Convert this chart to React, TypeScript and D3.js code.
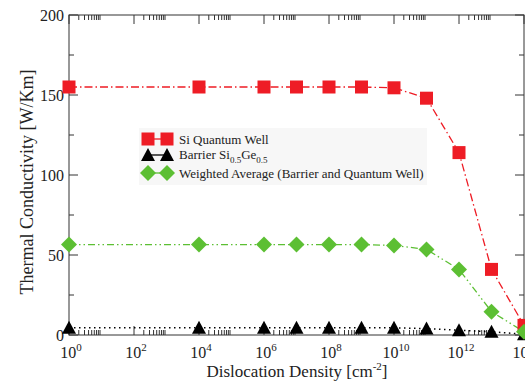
import React from "react";
import * as d3 from "d3";

const densities = [1e0, 1e4, 1e6, 1e7, 1e8, 1e9, 1e10, 1e11, 1e12, 1e13, 1e14];
const siQuantumWell = [155, 155, 155, 155, 155, 155, 154.5, 148, 114, 41, 6];
const barrierSiGe = [4.5, 4.5, 4.5, 4.5, 4.5, 4.5, 4.5, 4, 3, 2, 0.5];
const weightedAverage = [56.5, 56.5, 56.5, 56.5, 56.5, 56.5, 56, 53.5, 41, 14.6, 2];
const xMajorExps = [0, 2, 4, 6, 8, 10, 12, 14];
const yMajorTicks = [0, 50, 100, 150, 200];
const yMinorTicks = [25, 75, 125, 175];

const W = 525, H = 385;
const L = 69, R = 524, T = 15, B = 335;
const RED = "#ee1c25", GREEN = "#5cbf33", BLACK = "#000";
const TS = { fontFamily: "Liberation Serif" } as React.CSSProperties;

export default function App() {
  const x = d3.scaleLog().domain([1e0, 1e14]).range([L, R]);
  const y = d3.scaleLinear().domain([0, 200]).range([B, T]);

  const line = d3.line<number>().x((_, i) => x(densities[i])).y((v) => y(v));

  const minorX: number[] = [];
  xMajorExps.forEach((e) => {
    if (e < 14) for (let m = 2; m <= 9; m++) minorX.push(m * Math.pow(10, e));
  });

  const sq = (cx: number, cy: number, k: string | number, s = 6.5) => (
    <rect key={k} x={cx - s} y={cy - s} width={2 * s} height={2 * s} fill={RED} />
  );
  const tri = (cx: number, cy: number, k: string | number, s = 7) => (
    <path key={k} d={`M${cx},${cy - s}L${cx + s},${cy + s * 0.85}L${cx - s},${cy + s * 0.85}Z`} fill={BLACK} />
  );
  const dia = (cx: number, cy: number, k: string | number, s = 8) => (
    <path key={k} d={`M${cx},${cy - s}L${cx + s},${cy}L${cx},${cy + s}L${cx - s},${cy}Z`} fill={GREEN} />
  );

  const legendRows = [
    { y: 139, color: RED, marker: sq },
    { y: 155, color: BLACK, marker: tri },
    { y: 173, color: GREEN, marker: dia },
  ];

  return (
    <svg width={W} height={H} style={{ position: "absolute", left: 0, top: 0 }}>
      <rect x={0} y={0} width={W} height={H} fill="#fff" />
      {/* legend background */}
      <rect x={139} y={128} width={288} height={57} fill="#f7f7f7" />

      {/* frame */}
      <rect x={L} y={T} width={R - L} height={B - T} fill="none" stroke="#333" strokeWidth={1} />

      {/* x ticks */}
      {xMajorExps.map((e) => {
        const px = x(Math.pow(10, e));
        return (
          <g key={"xm" + e}>
            <line x1={px} x2={px} y1={B} y2={B - 9} stroke="#333" />
            <line x1={px} x2={px} y1={T} y2={T + 9} stroke="#333" />
            <text x={px + 2} y={358} textAnchor="middle" fontSize={16} fill="#222" style={TS}>
              10<tspan dy={-7} fontSize={11}>{e}</tspan>
            </text>
          </g>
        );
      })}
      {minorX.map((v, i) => {
        const px = x(v);
        return (
          <g key={"xn" + i}>
            <line x1={px} x2={px} y1={B} y2={B - 5} stroke="#333" />
            <line x1={px} x2={px} y1={T} y2={T + 5} stroke="#333" />
          </g>
        );
      })}

      {/* y ticks */}
      {yMajorTicks.map((v) => (
        <g key={"ym" + v}>
          <line x1={L} x2={L + 9} y1={y(v)} y2={y(v)} stroke="#333" />
          <line x1={R} x2={R - 9} y1={y(v)} y2={y(v)} stroke="#333" />
          <text x={64} y={y(v) + 6} textAnchor="end" fontSize={16} fill="#222" style={TS}>{v}</text>
        </g>
      ))}
      {yMinorTicks.map((v) => (
        <g key={"yn" + v}>
          <line x1={L} x2={L + 5} y1={y(v)} y2={y(v)} stroke="#333" />
          <line x1={R} x2={R - 5} y1={y(v)} y2={y(v)} stroke="#333" />
        </g>
      ))}

      {/* series lines */}
      <path d={line(barrierSiGe) || ""} fill="none" stroke={BLACK} strokeWidth={1.5} strokeDasharray="1.5,3.5" />
      <path d={line(weightedAverage) || ""} fill="none" stroke={GREEN} strokeWidth={1.3} strokeDasharray="7,3,1.5,3,1.5,3" />
      <path d={line(siQuantumWell) || ""} fill="none" stroke={RED} strokeWidth={1.3} strokeDasharray="8,3,1.5,3" />

      {/* markers */}
      {barrierSiGe.map((v, i) => tri(x(densities[i]), y(v), "t" + i))}
      {siQuantumWell.map((v, i) => sq(x(densities[i]), y(v), "s" + i))}
      {weightedAverage.map((v, i) => dia(x(densities[i]), y(v), "d" + i))}

      {/* legend */}
      {legendRows.map((r, i) => (
        <g key={"lg" + i}>
          <line x1={148} x2={167} y1={r.y} y2={r.y} stroke={r.color} strokeWidth={1.3} />
          {r.marker(148, r.y, "a" + i)}
          {r.marker(167, r.y, "b" + i)}
        </g>
      ))}
      <text x={179} y={143.5} fontSize={13} fill="#222" style={TS}>Si Quantum Well</text>
      <text x={179} y={159} fontSize={13} fill="#222" style={TS}>
        Barrier Si<tspan dy={4} fontSize={9}>0.5</tspan>
        <tspan dy={-4}>Ge</tspan>
        <tspan dy={4} fontSize={9}>0.5</tspan>
      </text>
      <text x={179} y={177.5} fontSize={13} fill="#222" style={TS}>Weighted Average (Barrier and Quantum Well)</text>

      {/* axis titles */}
      <text x={297} y={377} textAnchor="middle" fontSize={17} fill="#222" style={TS}>
        Dislocation Density [cm<tspan dy={-7} fontSize={11}>-2</tspan>
        <tspan dy={7}>]</tspan>
      </text>
      <text transform="translate(33,182) rotate(-90)" textAnchor="middle" fontSize={18} fill="#222" style={TS}>
        Thermal Conductivity [W/Km]
      </text>
    </svg>
  );
}
